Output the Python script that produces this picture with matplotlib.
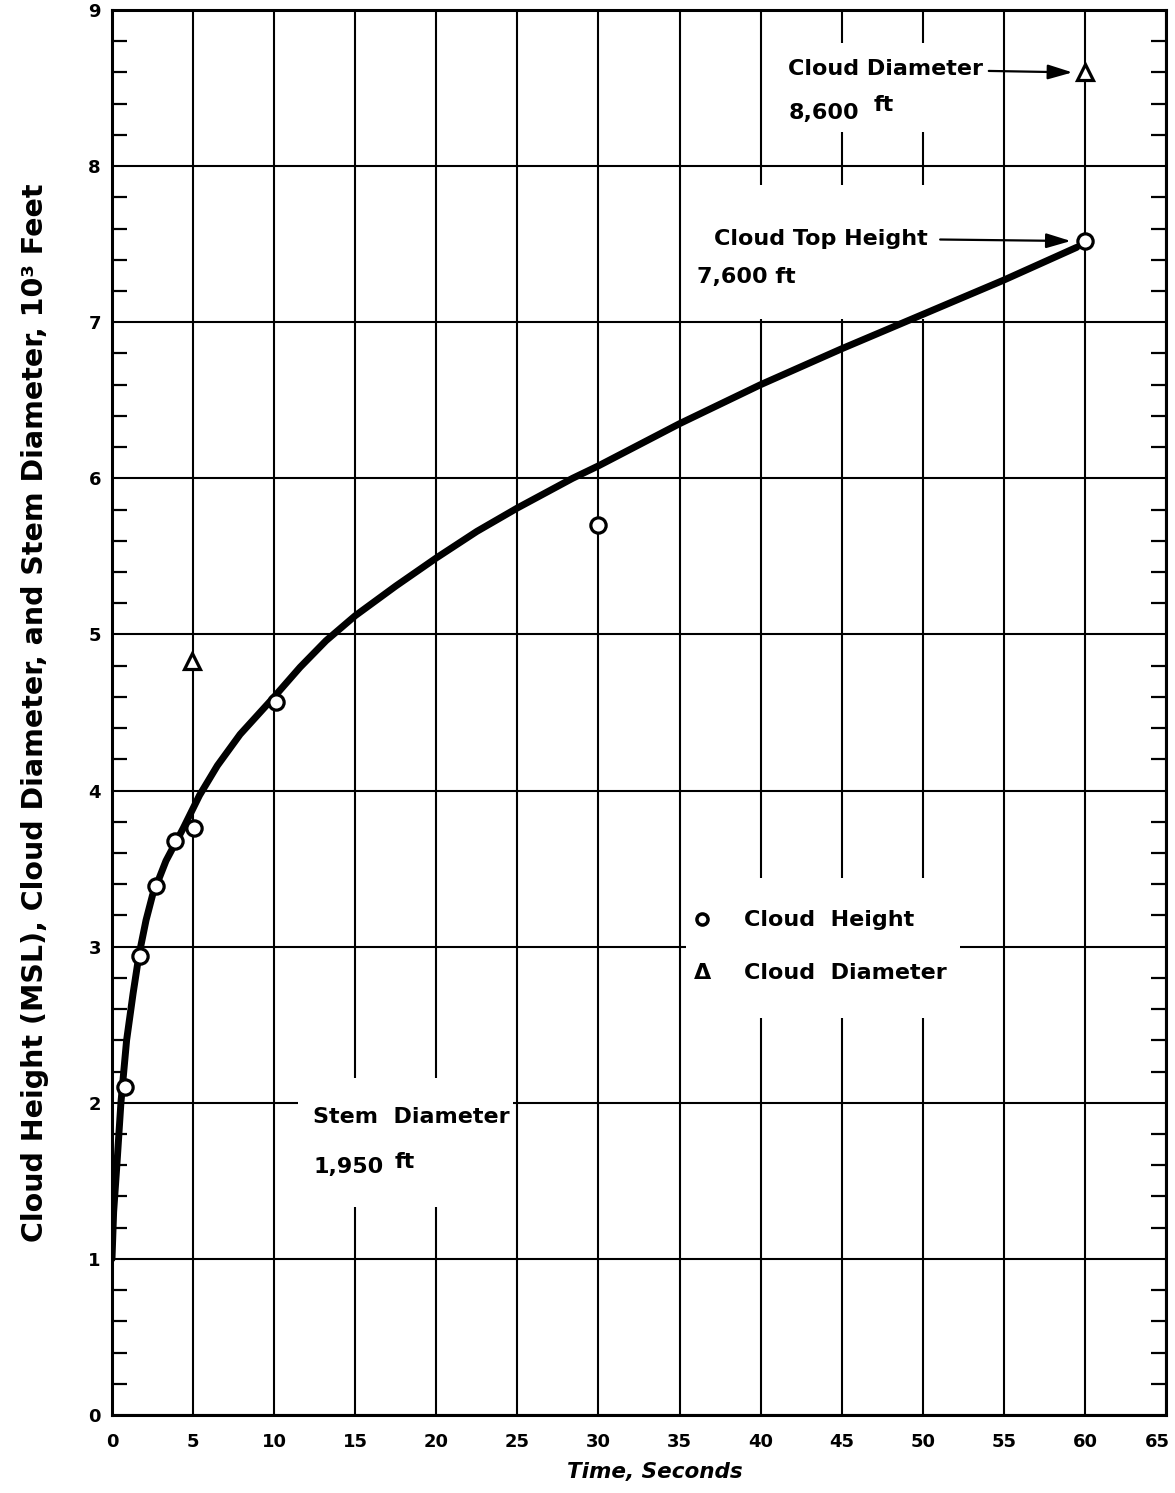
import matplotlib
matplotlib.use("Agg")
import matplotlib.pyplot as plt
import matplotlib.transforms as mtransforms
from matplotlib.patches import Rectangle
from matplotlib.ticker import MultipleLocator

# ---- data ----
curve_t = [0.0, 0.1, 0.3, 0.55, 0.9, 1.3, 1.67, 2.1, 2.5, 3.33, 4.4, 5.4, 6.5,
           7.9, 10.0, 11.6, 13.2, 15.0, 17.5, 20.0, 22.5, 25.0, 28.4, 30.0, 35.0,
           40.0, 45.0, 50.0, 55.0, 59.5]
curve_h = [1.0, 1.3, 1.6, 2.0, 2.4, 2.7, 2.95, 3.17, 3.33, 3.55, 3.76, 3.97, 4.16,
           4.36, 4.6, 4.79, 4.96, 5.12, 5.31, 5.49, 5.66, 5.81, 6.0, 6.08, 6.35,
           6.6, 6.83, 7.05, 7.27, 7.48]

height_t = [0.8, 1.7, 2.7, 3.9, 5.05, 10.1, 30.0, 60.0]
height_v = [2.1, 2.94, 3.39, 3.68, 3.76, 4.57, 5.70, 7.52]

diam_t = [4.95, 60.0]
diam_v = [4.83, 8.60]

x_ticks = [0, 5, 10, 15, 20, 25, 30, 35, 40, 45, 50, 55, 60, 65]
y_ticks = [0, 1, 2, 3, 4, 5, 6, 7, 8, 9]

plt.rcParams['font.family'] = ['DejaVu Sans']
plt.rcParams['font.weight'] = 'bold'

W, H = 1175, 1493
fig = plt.figure(figsize=(W / 100, H / 100), dpi=100)
L, R, T, B = 112, 1166, 10, 1415
ax = fig.add_axes([L / W, 1 - B / H, (R - L) / W, (B - T) / H])

ax.set_xlim(0, 65)
ax.set_ylim(0, 9)
ax.set_xticks(x_ticks)
ax.set_yticks(y_ticks)
ax.set_xticklabels([str(v) for v in x_ticks], fontsize=13, fontweight='bold')
ax.set_yticklabels([str(v) for v in y_ticks], fontsize=13, fontweight='bold')
ax.yaxis.set_minor_locator(MultipleLocator(0.2))
ax.tick_params(axis='both', which='major', length=0)
ax.tick_params(axis='x', which='major', pad=13)
ax.tick_params(axis='y', which='major', pad=8)
ax.tick_params(axis='y', which='minor', direction='in', length=11, width=1.6,
               left=True, right=True, color='black')
ax.tick_params(axis='x', which='minor', length=0)

# keep the last x label inside the picture
last = ax.get_xticklabels()[-1]
last.set_transform(last.get_transform() +
                   mtransforms.ScaledTranslation(-9 / 100, 0, fig.dpi_scale_trans))

ax.set_axisbelow(True)
ax.grid(True, which='major', color='black', linewidth=1.5)
for s in ax.spines.values():
    s.set_linewidth(2.2)
    s.set_color('black')

# gaps in the grid behind lettering
for (x0, y0, x1, y1) in [(11.5, 1.33, 24.7, 2.16),
                         (35.4, 2.54, 52.3, 3.44),
                         (41.5, 8.22, 53.7, 8.79),
                         (36.0, 7.02, 53.7, 7.88)]:
    ax.add_patch(Rectangle((x0, y0), x1 - x0, y1 - y0, facecolor='white',
                           edgecolor='none', zorder=1))

ax.plot(curve_t, curve_h, color='black', linewidth=5, solid_capstyle='round',
        solid_joinstyle='round', zorder=2)
ax.plot(height_t, height_v, linestyle='none', marker='o', markersize=11,
        markerfacecolor='white', markeredgecolor='black', markeredgewidth=2.3,
        zorder=3)
ax.plot(diam_t, diam_v, linestyle='none', marker='^', markersize=11,
        markerfacecolor='white', markeredgecolor='black', markeredgewidth=2.3,
        zorder=3)

fs = 16
arrow = dict(arrowstyle='-|>,head_length=1.5,head_width=0.45', color='black', lw=1.6)
# annotations
ax.text(41.7, 8.62, 'Cloud Diameter', fontsize=fs, fontweight='bold', va='center', ha='left', zorder=4)
ax.annotate('', xy=(59.4, 8.60), xytext=(53.9, 8.61), arrowprops=arrow, zorder=4)
ax.text(41.7, 8.34, '8,600', fontsize=fs, fontweight='bold', va='center', ha='left', zorder=4)
ax.text(47.0, 8.39, 'ft', fontsize=fs, fontweight='bold', va='center', ha='left', zorder=4)

ax.text(37.1, 7.53, 'Cloud Top Height', fontsize=fs, fontweight='bold', va='center', ha='left', zorder=4)
ax.annotate('', xy=(59.3, 7.52), xytext=(50.9, 7.53), arrowprops=arrow, zorder=4)
ax.text(36.1, 7.29, '7,600 ft', fontsize=fs, fontweight='bold', va='center', ha='left', zorder=4)

ax.plot([36.4], [3.18], linestyle='none', marker='o', markersize=8,
        markerfacecolor='white', markeredgecolor='black', markeredgewidth=2.5, zorder=4)
ax.text(39.0, 3.17, 'Cloud  Height', fontsize=fs, fontweight='bold', va='center', ha='left', zorder=4)
ax.text(36.4, 2.83, 'Δ', fontsize=fs, fontweight='bold', va='center', ha='center', zorder=4)
ax.text(39.0, 2.83, 'Cloud  Diameter', fontsize=fs, fontweight='bold', va='center', ha='left', zorder=4)

ax.text(12.4, 1.91, 'Stem  Diameter', fontsize=fs, fontweight='bold', va='center', ha='left', zorder=4)
ax.text(12.4, 1.59, '1,950', fontsize=fs, fontweight='bold', va='center', ha='left', zorder=4)
ax.text(17.4, 1.62, 'ft', fontsize=fs, fontweight='bold', va='center', ha='left', zorder=4)

ax.set_ylabel('Cloud Height (MSL), Cloud Diameter, and Stem Diameter, 10³ Feet',
              fontsize=20.5, fontweight='bold')
ax.yaxis.set_label_coords(-(L - 35) / (R - L), 0.5)
ax.yaxis.label.set_va('center')
ax.set_xlabel('Time, Seconds', fontsize=15.5, fontweight='bold', fontstyle='italic')
ax.xaxis.set_label_coords((655 - L) / (R - L), -57 / (B - T))
ax.xaxis.label.set_va('center')

fig.savefig('out.png', dpi=100)
